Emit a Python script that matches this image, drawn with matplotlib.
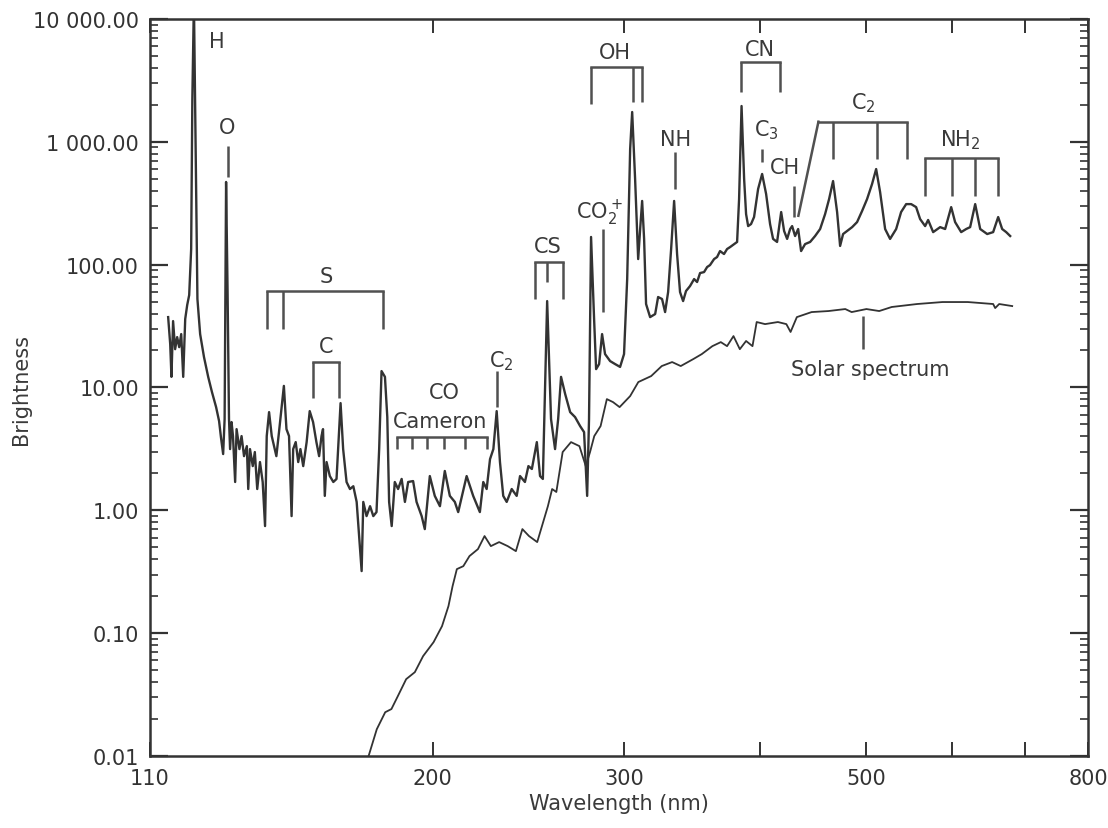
import matplotlib
matplotlib.use("Agg")
import matplotlib.pyplot as plt
from matplotlib.ticker import LogLocator, NullLocator, NullFormatter

# comet spectrum (wavelength nm, brightness)
comet_wl = [114.3, 114.8, 115.1, 115.5, 116.0, 116.5, 117.0, 117.5, 118.0, 118.5,
            119.0, 119.5, 120.0, 120.3, 120.7, 121.3, 121.6, 122.3, 123.3, 124.4,
            125.4, 126.5, 127.3, 127.8, 128.4, 128.8, 129.2, 129.6, 130.0,
            130.3, 130.7, 131.1, 131.7, 132.1, 132.9, 133.5, 134.2, 135.0, 135.4,
            135.9, 136.7, 137.3, 138.0, 138.8, 139.6, 140.3, 140.8, 141.5, 142.3,
            143.0, 143.7, 144.5, 146.0, 146.8, 147.6, 148.4, 148.9, 149.7, 150.5,
            151.2, 152.1, 153.2, 154.2, 155.3, 156.4, 157.3, 158.1, 158.6, 159.2,
            159.8, 160.9, 162.1, 163.2, 164.6, 165.5, 166.7, 167.9, 169.1, 170.3,
            172.1, 172.7, 173.9, 175.2, 176.4, 177.6, 178.6, 179.5, 180.8, 181.7,
            182.4, 183.4, 184.6, 185.9, 187.3, 188.6, 189.9, 191.9, 193.3, 195.4,
            196.7, 198.8, 200.9, 203.1, 205.2, 207.4, 209.6, 211.1, 214.9, 217.9,
            221.0, 222.6, 224.2, 225.8, 227.4, 229.0, 230.6, 232.2, 233.9, 236.4,
            238.9, 240.6, 243.1, 244.9, 246.7, 249.3, 251.0, 252.5, 254.8, 256.9,
            259.1, 260.8, 262.4, 264.7, 267.5, 270.3, 273.2, 275.5, 277.3, 278.4,
            279.6, 281.4, 282.6, 284.4, 286.2, 288.0, 291.1, 294.2, 297.3, 299.8,
            301.8, 303.7, 305.0, 306.9, 308.9, 310.2, 311.5, 312.8, 314.1, 316.8,
            320.2, 322.2, 324.9, 327.0, 329.1, 331.2, 333.3, 335.4, 337.5, 339.7,
            341.8, 344.7, 347.7, 349.9, 352.1, 355.1, 357.4, 359.6, 362.7, 365.0,
            367.3, 370.4, 372.8, 375.2, 378.4, 380.8, 382.4, 384.4, 386.5, 388.1,
            389.8, 392.2, 394.7, 398.1, 401.5, 404.9, 408.3, 410.9, 414.4, 418.0,
            420.6, 423.3, 426.0, 427.8, 430.5, 433.3, 436.0, 439.7, 444.4, 449.1,
            453.9, 458.7, 462.6, 466.5, 470.5, 473.5, 476.5, 480.5, 485.7, 490.8,
            496.0, 501.3, 506.6, 511.0, 515.3, 520.8, 526.3, 533.1, 538.7, 544.5,
            550.3, 556.1, 560.8, 566.8, 570.4, 576.5, 585.1, 591.3, 598.9, 603.9,
            611.7, 618.2, 623.4, 630.1, 636.8, 646.3, 654.5, 661.5, 667.1, 672.8,
            678.5]
comet_br = [37.4, 22.5, 12.2, 34.7, 20.5, 25.7, 21.3, 27.2, 12.2, 36.1,
            46.9, 56.5, 134, 2230, 14000, 342, 52.5, 27.2, 17.7, 12.2,
            9.17, 6.92, 5.33, 3.94, 2.87, 5.53, 471, 63.3, 5.53,
            3.15, 5.23, 4.02, 1.70, 4.58, 3.15, 4.02, 2.76, 3.33, 1.49,
            3.15, 2.29, 2.98, 1.49, 2.47, 1.70, 0.744, 4.02, 6.30, 4.02,
            3.33, 2.76, 4.33, 10.3, 4.58, 4.02, 0.897, 3.15, 3.59, 2.47,
            3.15, 2.29, 3.59, 6.42, 5.23, 3.59, 2.76, 4.02, 4.58, 1.31,
            2.47, 1.90, 1.70, 1.80, 7.46, 3.15, 1.70, 1.49, 1.57, 1.17,
            0.320, 1.17, 0.897, 1.08, 0.897, 0.967, 3.15, 13.6, 12.2, 5.74,
            1.17, 0.744, 1.70, 1.49, 1.80, 1.17, 1.70, 1.73, 1.17, 0.897,
            0.703, 1.90, 1.31, 1.08, 2.09, 1.31, 1.17, 0.967, 1.90, 1.31,
            0.967, 1.70, 1.49, 2.61, 3.15, 6.42, 2.47, 1.31, 1.17, 1.49,
            1.31, 1.90, 1.70, 2.29, 2.17, 3.59, 1.90, 1.80, 50.5, 5.53,
            3.15, 5.53, 12.2, 8.84, 6.30, 5.74, 4.85, 4.33, 1.31, 5.53,
            168, 36.1, 14.1, 15.5, 27.2, 18.7, 16.4, 15.5, 14.7, 18.7,
            76.3, 874, 1748, 498, 111, 195, 330, 162, 47.8, 37.4,
            39.6, 54.5, 52.5, 41.1, 59.8, 134, 330, 122, 59.8, 50.5,
            61.0, 66.9, 76.3, 72.2, 85.4, 87.0, 95.6, 99.2, 111, 115.3,
            129, 122, 134, 139, 147, 153, 342, 1956, 498, 258,
            206, 214, 244, 413, 547, 376, 214, 162, 153, 268,
            188, 162, 195, 206, 171, 195, 129, 147, 153, 171,
            195, 258, 342, 479, 268, 142, 177.5, 188, 202, 222,
            273, 342, 453, 600, 390, 195, 162, 195, 268, 311,
            311, 294, 235, 206, 231, 184, 202, 195, 294, 222,
            184, 195, 202, 311, 195, 177.5, 184, 244, 195, 184,
            171]

# solar spectrum
solar_wl = [174.6, 177.7, 180.9, 183.3, 185.8, 189.1, 192.6, 196.0, 200.4, 204.0,
            206.8, 208.6, 210.5, 213.4, 216.2, 220.1, 223.2, 226.2, 230.2, 234.4,
            238.5, 241.8, 245.2, 249.5, 255.2, 257.5, 259.8, 263.3, 268.0, 272.8,
            276.5, 279.0, 281.5, 285.3, 289.1, 292.9, 297.0, 303.7, 309.0, 317.5,
            324.7, 331.9, 338.0, 347.1, 353.4, 361.4, 367.9, 372.8, 377.9, 383.0,
            388.1, 393.4, 396.9, 404.0, 415.1, 422.6, 426.4, 432.1, 445.8, 462.0,
            478.7, 485.2, 500.6, 514.3, 528.1, 557.3, 587.9, 620.3, 654.5, 657.3,
            662.9, 681.4]
solar_br = [0.0099, 0.0165, 0.0227, 0.0241, 0.0307, 0.0422, 0.0481, 0.0650, 0.0845, 0.114,
            0.166, 0.241, 0.332, 0.351, 0.424, 0.483, 0.617, 0.511, 0.551, 0.511,
            0.465, 0.703, 0.617, 0.551, 1.08, 1.49, 1.41, 2.98, 3.59, 3.33,
            2.29, 2.98, 4.02, 4.85, 8.04, 7.60, 6.92, 8.51, 11.07, 12.38,
            14.94, 16.10, 14.94, 17.03, 18.7, 21.7, 23.4, 21.7, 26.2, 20.5,
            23.9, 21.7, 34.1, 32.8, 34.1, 32.8, 28.3, 37.4, 41.1, 41.9,
            43.5, 41.1, 43.5, 41.9, 45.2, 47.8, 49.6, 49.6, 47.8, 44.3,
            47.8, 46.0]

xticks = [110, 200, 300, 400, 500, 600, 700, 800]
xticklabels = ["110", "200", "300", "", "500", "", "", "800"]
yticks = [0.01, 0.1, 1, 10, 100, 1000, 10000]
yticklabels = ["0.01", "0.10", "1.00", "10.00", "100.00", "1 000.00", "10 000.00"]

ink = "#333333"
txt = "#3a3a3a"
ann = "#505050"

fig = plt.figure(figsize=(11.08, 8.29), dpi=100)
ax = fig.add_axes([0.1354, 0.0869, 0.8466, 0.889])

ax.plot(comet_wl, comet_br, color=ink, lw=1.7)
ax.plot(solar_wl, solar_br, color=ink, lw=1.3)

ax.set_xscale("log")
ax.set_yscale("log")
ax.set_xlim(110, 800)
ax.set_ylim(0.01, 10000)

ax.xaxis.set_minor_locator(NullLocator())
ax.xaxis.set_minor_formatter(NullFormatter())
ax.set_xticks(xticks)
ax.set_xticklabels(xticklabels, fontsize=15, color=txt)
ax.set_yticks(yticks)
ax.set_yticklabels(yticklabels, fontsize=15, color=txt)
ax.yaxis.set_minor_locator(LogLocator(base=10, subs=range(2, 10), numticks=20))
ax.yaxis.set_minor_formatter(NullFormatter())

ax.tick_params(axis="both", which="both", direction="in", top=True, right=True, colors=ink)
ax.tick_params(axis="y", which="major", length=13, width=1.6, pad=8)
ax.tick_params(axis="y", which="minor", length=6, width=1.2)
ax.tick_params(axis="x", which="major", length=10, width=1.4, pad=9)
for sp in ax.spines.values():
    sp.set_linewidth(1.8)
    sp.set_color(ink)

ax.set_xlabel("Wavelength (nm)", fontsize=15, color=txt, labelpad=3)
ax.set_ylabel("Brightness", fontsize=15, color=txt)
ax.yaxis.set_label_coords(-0.127, 0.498)


def label(x, y, s):
    ax.text(x, y, s, fontsize=15, color=txt, ha="center", va="center")


def vline(x, y0, y1):
    ax.plot([x, x], [y0, y1], color=ann, lw=1.8, solid_capstyle="butt")


def bracket(xs, top, bottoms):
    ax.plot([min(xs), max(xs)], [top, top], color=ann, lw=1.8)
    for x, b in zip(xs, bottoms):
        vline(x, top, b)


# line identifications
label(126.8, 6620, "H")
label(129.6, 1320, "O")
vline(129.6, 924, 517)

bracket([141.0, 145.8, 179.9], 61.0, [29.9, 29.9, 29.9])
label(159.8, 80.8, "S")
bracket([155.3, 164.0], 16.0, [8.2, 8.2])
label(159.6, 21.7, "C")

label(205.2, 9.17, "CO")
label(203.1, 5.36, "Cameron")
bracket([185.4, 191.4, 197.6, 204.8, 214.1, 224.3], 3.92, [3.15] * 6)

label(231.1, 16.7, "C$_2$")
vline(229.0, 13.6, 6.92)

bracket([248.4, 254.8, 263.7], 104.4, [52.5, 72.2, 52.5])
label(255.3, 142, "CS")

label(284.4, 268, "CO$_2^+$")
vline(286.8, 195, 41.1)

bracket([279.4, 305.4, 311.3], 4044, [2032, 2100, 2100])
label(294.2, 5356, "OH")

label(334.0, 1054, "NH")
vline(334.0, 826, 413)

bracket([383.8, 417.1], 4440, [2550, 2550])
label(399.8, 5698, "CN")

label(405.5, 1271, "C$_3$")
vline(401.5, 874, 685)
label(421.5, 623, "CH")
vline(429.9, 439, 244)

ax.plot([433.5, 452.3], [250, 1458], color=ann, lw=1.8)
bracket([452.3, 466.2, 511.7, 545.3], 1458, [1458, 724, 724, 724])
label(497.4, 2097, "C$_2$")

bracket([566.8, 599.8, 630.1, 661.9], 734, [364, 364, 364, 364])
label(610.4, 1054, "NH$_2$")

vline(497.1, 38.4, 20.5)
label(504.5, 14.1, "Solar spectrum")

fig.savefig("out.png", dpi=100, facecolor="white")
